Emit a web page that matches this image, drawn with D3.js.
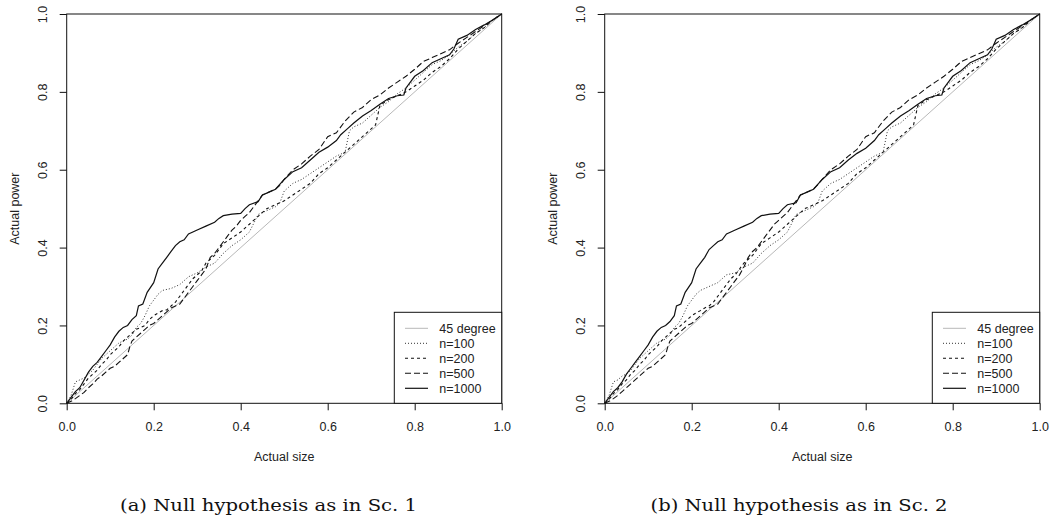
<!DOCTYPE html>
<html>
<head>
<meta charset="utf-8">
<script src="https://cdn.jsdelivr.net/npm/d3@7"></script>
<style>
  body { margin: 0; background: #fff; }
  svg { display: block; }
</style>
</head>
<body>
<div id="chart"></div>
<script>
// Size vs power curves, two panels

const ticks = [0, 0.2, 0.4, 0.6, 0.8, 1.0];
const legendLabels = ["45 degree", "n=100", "n=200", "n=500", "n=1000"];
const captions = ["(a) Null hypothesis as in Sc. 1", "(b) Null hypothesis as in Sc. 2"];

// panel (a)
const sizeA1000 = [0,0.01,0.02,0.03,0.04,0.05,0.06,0.07,0.08,0.09,0.10,0.11,0.12,0.13,0.14,0.15,0.16,0.165,0.175,0.185,0.2,0.21,0.22,0.23,0.24,0.25,0.26,0.27,0.28,0.29,0.30,0.32,0.34,0.35,0.36,0.38,0.40,0.41,0.42,0.44,0.45,0.46,0.48,0.50,0.52,0.54,0.56,0.58,0.60,0.62,0.63,0.645,0.66,0.68,0.70,0.72,0.74,0.76,0.775,0.78,0.80,0.82,0.84,0.86,0.88,0.89,0.90,0.92,0.94,0.96,0.98,1.0];
const powA1000 = [0,0.015,0.03,0.04,0.06,0.08,0.095,0.105,0.12,0.135,0.15,0.17,0.185,0.195,0.2,0.215,0.225,0.25,0.255,0.285,0.31,0.345,0.36,0.375,0.39,0.405,0.415,0.42,0.435,0.44,0.445,0.455,0.465,0.475,0.482,0.486,0.488,0.5,0.51,0.518,0.535,0.54,0.55,0.575,0.595,0.605,0.625,0.645,0.658,0.675,0.69,0.705,0.72,0.738,0.752,0.768,0.783,0.79,0.792,0.81,0.84,0.855,0.875,0.885,0.895,0.91,0.935,0.945,0.96,0.972,0.985,1.0];

const sizeA500 = [0,0.01,0.02,0.03,0.04,0.05,0.06,0.07,0.08,0.09,0.10,0.11,0.12,0.13,0.14,0.145,0.15,0.16,0.17,0.18,0.19,0.20,0.21,0.22,0.23,0.24,0.25,0.26,0.27,0.28,0.29,0.30,0.31,0.32,0.33,0.34,0.35,0.36,0.37,0.38,0.39,0.40,0.41,0.42,0.43,0.44,0.45,0.46,0.48,0.49,0.50,0.52,0.54,0.56,0.58,0.60,0.62,0.64,0.66,0.68,0.70,0.72,0.74,0.76,0.78,0.80,0.82,0.84,0.86,0.88,0.90,0.92,0.94,0.96,0.98,1.0];
const powA500 = [0,0.005,0.012,0.02,0.028,0.04,0.05,0.062,0.07,0.08,0.09,0.095,0.105,0.115,0.125,0.145,0.16,0.17,0.18,0.19,0.2,0.205,0.215,0.225,0.235,0.245,0.25,0.255,0.27,0.285,0.3,0.315,0.33,0.345,0.375,0.385,0.4,0.415,0.43,0.445,0.455,0.47,0.48,0.49,0.505,0.52,0.535,0.54,0.55,0.56,0.575,0.6,0.615,0.635,0.652,0.685,0.695,0.725,0.748,0.76,0.78,0.792,0.81,0.825,0.84,0.858,0.878,0.888,0.898,0.908,0.925,0.94,0.955,0.97,0.985,1.0];

const sizeA200 = [0,0.01,0.02,0.03,0.04,0.05,0.06,0.07,0.08,0.09,0.10,0.11,0.12,0.13,0.14,0.15,0.16,0.17,0.18,0.19,0.20,0.21,0.22,0.23,0.24,0.25,0.26,0.27,0.28,0.29,0.30,0.31,0.32,0.33,0.34,0.35,0.36,0.38,0.40,0.42,0.44,0.46,0.48,0.50,0.52,0.54,0.56,0.58,0.60,0.62,0.64,0.66,0.68,0.70,0.71,0.72,0.74,0.76,0.78,0.80,0.82,0.84,0.86,0.88,0.90,0.92,0.94,0.96,0.98,1.0];
const powA200 = [0,0.01,0.025,0.035,0.05,0.065,0.075,0.085,0.1,0.11,0.125,0.135,0.145,0.16,0.17,0.18,0.19,0.195,0.2,0.215,0.225,0.232,0.238,0.24,0.25,0.26,0.275,0.29,0.305,0.32,0.33,0.34,0.36,0.37,0.38,0.395,0.41,0.425,0.44,0.46,0.48,0.5,0.51,0.52,0.535,0.55,0.565,0.59,0.605,0.625,0.645,0.665,0.685,0.705,0.715,0.765,0.78,0.79,0.8,0.815,0.83,0.85,0.865,0.885,0.91,0.93,0.95,0.965,0.985,1.0];

const sizeA100 = [0,0.01,0.02,0.03,0.04,0.05,0.06,0.07,0.08,0.09,0.10,0.11,0.12,0.13,0.14,0.15,0.16,0.17,0.18,0.19,0.20,0.21,0.22,0.24,0.26,0.28,0.30,0.32,0.34,0.36,0.38,0.40,0.42,0.44,0.46,0.48,0.49,0.50,0.52,0.54,0.56,0.58,0.60,0.62,0.64,0.65,0.66,0.68,0.70,0.72,0.74,0.76,0.78,0.80,0.82,0.84,0.86,0.88,0.90,0.92,0.94,0.96,0.98,1.0];
const powA100 = [0,0.02,0.055,0.06,0.065,0.075,0.085,0.1,0.115,0.125,0.135,0.145,0.155,0.16,0.165,0.175,0.195,0.205,0.225,0.25,0.265,0.28,0.29,0.295,0.305,0.325,0.335,0.35,0.36,0.385,0.405,0.42,0.44,0.485,0.495,0.505,0.515,0.545,0.565,0.575,0.59,0.605,0.62,0.635,0.645,0.7,0.71,0.72,0.74,0.76,0.775,0.795,0.81,0.83,0.85,0.87,0.88,0.895,0.915,0.93,0.95,0.965,0.985,1.0];

// panel (b)
const sizeB1000 = [0,0.01,0.02,0.03,0.04,0.05,0.06,0.07,0.08,0.09,0.10,0.11,0.12,0.13,0.14,0.15,0.16,0.165,0.175,0.185,0.2,0.21,0.22,0.23,0.24,0.25,0.26,0.27,0.28,0.29,0.30,0.32,0.34,0.35,0.36,0.38,0.40,0.41,0.42,0.44,0.45,0.46,0.48,0.50,0.52,0.54,0.56,0.58,0.60,0.62,0.63,0.645,0.66,0.68,0.70,0.72,0.74,0.76,0.775,0.78,0.80,0.82,0.84,0.86,0.88,0.89,0.90,0.92,0.94,0.96,0.98,1.0];
const powB1000 = [0,0.015,0.03,0.04,0.055,0.075,0.09,0.105,0.12,0.135,0.15,0.17,0.185,0.195,0.2,0.21,0.225,0.25,0.255,0.285,0.31,0.345,0.36,0.375,0.395,0.405,0.415,0.42,0.435,0.44,0.445,0.455,0.465,0.475,0.482,0.486,0.488,0.5,0.51,0.515,0.535,0.54,0.55,0.575,0.595,0.605,0.625,0.642,0.655,0.675,0.69,0.705,0.72,0.738,0.752,0.768,0.783,0.79,0.792,0.81,0.84,0.855,0.875,0.885,0.895,0.91,0.935,0.945,0.96,0.972,0.985,1.0];

const sizeB500 = sizeA500.slice();
const powB500 = [0,0.005,0.012,0.02,0.03,0.04,0.05,0.06,0.07,0.08,0.09,0.095,0.105,0.115,0.125,0.145,0.16,0.17,0.18,0.19,0.2,0.205,0.215,0.225,0.235,0.245,0.25,0.255,0.27,0.285,0.3,0.315,0.33,0.35,0.375,0.39,0.4,0.415,0.43,0.445,0.46,0.47,0.48,0.49,0.505,0.52,0.535,0.54,0.55,0.562,0.575,0.6,0.615,0.635,0.652,0.685,0.695,0.725,0.748,0.76,0.78,0.792,0.81,0.825,0.84,0.858,0.878,0.888,0.898,0.908,0.925,0.94,0.955,0.97,0.985,1.0];

const sizeB200 = sizeA200.slice();
const powB200 = [0,0.01,0.025,0.035,0.05,0.06,0.075,0.085,0.1,0.11,0.125,0.135,0.145,0.16,0.17,0.18,0.19,0.195,0.205,0.215,0.225,0.232,0.238,0.245,0.25,0.26,0.275,0.29,0.305,0.32,0.33,0.345,0.36,0.37,0.38,0.395,0.41,0.425,0.44,0.46,0.48,0.5,0.51,0.52,0.535,0.55,0.565,0.59,0.605,0.625,0.645,0.665,0.685,0.705,0.715,0.765,0.78,0.79,0.8,0.815,0.83,0.85,0.865,0.885,0.91,0.93,0.95,0.965,0.985,1.0];

const sizeB100 = sizeA100.slice();
const powB100 = [0,0.02,0.055,0.06,0.07,0.075,0.085,0.1,0.115,0.125,0.135,0.145,0.155,0.16,0.165,0.175,0.195,0.205,0.225,0.25,0.265,0.28,0.29,0.3,0.31,0.33,0.335,0.35,0.36,0.385,0.405,0.42,0.44,0.485,0.495,0.505,0.515,0.545,0.565,0.575,0.59,0.605,0.62,0.635,0.645,0.7,0.71,0.72,0.74,0.76,0.775,0.795,0.81,0.83,0.85,0.87,0.88,0.895,0.915,0.93,0.95,0.965,0.985,1.0];

const W = 1050, H = 516;
const FONT = "'Liberation Sans', Arial, Helvetica, sans-serif";

const svg = d3.select("#chart").append("svg")
    .attr("width", W).attr("height", H);

// line styles, in legend order
const styles = [
    { stroke: "#b8b8b8", dash: null, width: 1 },
    { stroke: "#333", dash: "1,2", width: 1 },
    { stroke: "#111", dash: "3,3", width: 1.1 },
    { stroke: "#111", dash: "6,3", width: 1.1 },
    { stroke: "#111", dash: null, width: 1.2 }
];

function zip(xs, ys) {
    return xs.map((x, i) => ({ x: x, y: ys[i] }));
}

function drawPanel(left, series, caption, captionX) {
    const x0 = left, x1 = left + 435, yTop = 14, yBot = 403.3;
    const x = d3.scaleLinear().domain([0, 1]).range([x0, x1]);
    const y = d3.scaleLinear().domain([0, 1]).range([yBot, yTop]);
    const g = svg.append("g");

    const line = d3.line().x(d => x(d.x)).y(d => y(d.y));

    // 45 degree reference
    const all = [zip([0, 1], [0, 1])].concat(series);
    all.forEach((s, i) => {
        const st = styles[i];
        g.append("path")
            .datum(s)
            .attr("d", line)
            .attr("fill", "none")
            .attr("stroke", st.stroke)
            .attr("stroke-width", st.width)
            .attr("stroke-dasharray", st.dash);
    });

    // box
    g.append("rect")
        .attr("x", x0).attr("y", yTop)
        .attr("width", x1 - x0).attr("height", yBot - yTop)
        .attr("fill", "none").attr("stroke", "#111").attr("stroke-width", 1);

    // x axis
    const xAxis = g.append("g")
        .attr("transform", `translate(0,${yBot})`)
        .call(d3.axisBottom(x).tickValues(ticks).tickFormat(d3.format(".1f")).tickSize(7).tickPadding(12).tickSizeOuter(0));
    xAxis.select(".domain").remove();
    xAxis.selectAll("line").attr("stroke", "#111");
    xAxis.selectAll("text").attr("font-family", FONT).attr("font-size", "12.5px").attr("fill", "#222");

    // y axis, rotated labels like base R
    const yAxis = g.append("g")
        .attr("transform", `translate(${x0},0)`)
        .call(d3.axisLeft(y).tickValues(ticks).tickFormat(d3.format(".1f")).tickSize(7).tickSizeOuter(0));
    yAxis.select(".domain").remove();
    yAxis.selectAll("line").attr("stroke", "#111");
    yAxis.selectAll("text")
        .attr("transform", "rotate(-90)")
        .attr("x", 0).attr("y", -24).attr("dy", "0.35em")
        .attr("text-anchor", "middle")
        .attr("font-family", FONT).attr("font-size", "12.5px").attr("fill", "#222");

    // axis titles
    g.append("text")
        .attr("x", (x0 + x1) / 2).attr("y", 461)
        .attr("text-anchor", "middle")
        .attr("font-family", FONT).attr("font-size", "12.5px").attr("fill", "#222")
        .text("Actual size");
    g.append("text")
        .attr("transform", `translate(${x0 - 47.5},${(yTop + yBot) / 2}) rotate(-90)`)
        .attr("text-anchor", "middle")
        .attr("font-family", FONT).attr("font-size", "12.5px").attr("fill", "#222")
        .text("Actual power");

    // legend
    const lx = x1 - 107.4, ly = 312.3;
    const lg = g.append("g");
    lg.append("rect")
        .attr("x", lx).attr("y", ly)
        .attr("width", x1 - lx).attr("height", yBot - ly)
        .attr("fill", "#fff").attr("stroke", "#111").attr("stroke-width", 1);
    legendLabels.forEach((lab, i) => {
        const st = styles[i];
        const ry = ly + 16 + i * 15;
        lg.append("line")
            .attr("x1", lx + 10.7).attr("x2", lx + 33.7)
            .attr("y1", ry).attr("y2", ry)
            .attr("stroke", st.stroke)
            .attr("stroke-width", st.width)
            .attr("stroke-dasharray", st.dash);
        lg.append("text")
            .attr("x", lx + 45).attr("y", ry).attr("dy", "0.35em")
            .attr("font-family", FONT).attr("font-size", "12.5px").attr("fill", "#222")
            .text(lab);
    });

    // caption under panel
    svg.append("text")
        .attr("x", captionX).attr("y", 511)
        .attr("text-anchor", "middle")
        .attr("font-family", "'DejaVu Serif', 'Liberation Serif', serif")
        .attr("font-size", "17px")
        .attr("textLength", 297)
        .attr("lengthAdjust", "spacingAndGlyphs")
        .attr("fill", "#111")
        .text(caption);
}

drawPanel(66.7, [zip(sizeA100, powA100), zip(sizeA200, powA200), zip(sizeA500, powA500), zip(sizeA1000, powA1000)], captions[0], 268.5);
drawPanel(604.7, [zip(sizeB100, powB100), zip(sizeB200, powB200), zip(sizeB500, powB500), zip(sizeB1000, powB1000)], captions[1], 799);
</script>
</body>
</html>
